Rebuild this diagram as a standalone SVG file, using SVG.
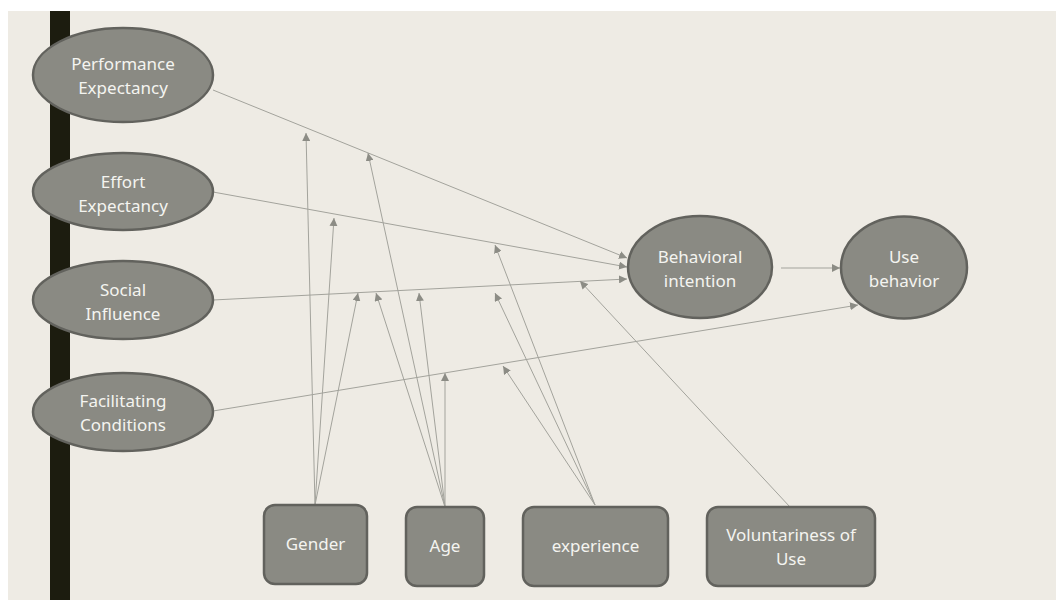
<svg xmlns="http://www.w3.org/2000/svg" width="1056" height="600" viewBox="0 0 1056 600">
<defs>
<style>
.node{fill:#8A8A83;stroke:#62625D;stroke-width:2.5}
.lbl{font-family:"Noto Sans","Open Sans","Liberation Sans",sans-serif;font-size:17px;fill:#F4F4F0;text-anchor:middle}
.conn{stroke:#A3A39C;stroke-width:1;fill:none;marker-end:url(#arr)}
</style>
<marker id="arr" markerUnits="userSpaceOnUse" markerWidth="9" markerHeight="8" refX="8" refY="4" orient="auto">
<path d="M0,0 L8,4 L0,8 Z" fill="#8C8C85"/>
</marker>
</defs>
<rect x="0" y="0" width="1056" height="600" fill="#FFFFFF"/>
<rect x="8" y="11" width="1048" height="589" fill="#EEEBE4"/>
<rect x="50" y="11" width="20" height="589" fill="#1C1C0F"/>
<g id="connectors">
<line class="conn" x1="213" y1="90" x2="627" y2="258"/>
<line class="conn" x1="213" y1="192" x2="627" y2="267"/>
<line class="conn" x1="213" y1="300" x2="627" y2="279"/>
<line class="conn" x1="213" y1="411" x2="858" y2="305"/>
<line class="conn" x1="781" y1="268" x2="840" y2="268"/>
<line class="conn" x1="315" y1="505" x2="306" y2="133"/>
<line class="conn" x1="315" y1="505" x2="334" y2="218"/>
<line class="conn" x1="315" y1="505" x2="358" y2="293"/>
<line class="conn" x1="445" y1="507" x2="368" y2="153"/>
<line class="conn" x1="445" y1="507" x2="376" y2="293"/>
<line class="conn" x1="445" y1="507" x2="419" y2="293"/>
<line class="conn" x1="445" y1="507" x2="445" y2="373"/>
<line class="conn" x1="595" y1="505" x2="495" y2="245"/>
<line class="conn" x1="595" y1="505" x2="495" y2="293"/>
<line class="conn" x1="595" y1="505" x2="503" y2="366"/>
<line class="conn" x1="790" y1="507" x2="580" y2="281"/>
</g>
<g id="performance-expectancy">
<ellipse class="node" cx="123" cy="75" rx="90" ry="47"/>
<text class="lbl" x="123" y="70">Performance</text>
<text class="lbl" x="123" y="94">Expectancy</text>
</g>
<g id="effort-expectancy">
<ellipse class="node" cx="123" cy="191.5" rx="90" ry="38.5"/>
<text class="lbl" x="123" y="188">Effort</text>
<text class="lbl" x="123" y="212">Expectancy</text>
</g>
<g id="social-influence">
<ellipse class="node" cx="123" cy="300" rx="90" ry="39"/>
<text class="lbl" x="123" y="296">Social</text>
<text class="lbl" x="123" y="320">Influence</text>
</g>
<g id="facilitating-conditions">
<ellipse class="node" cx="123" cy="412" rx="90" ry="39"/>
<text class="lbl" x="123" y="407">Facilitating</text>
<text class="lbl" x="123" y="431">Conditions</text>
</g>
<g id="behavioral-intention">
<ellipse class="node" cx="700" cy="267" rx="72" ry="51"/>
<text class="lbl" x="700" y="263">Behavioral</text>
<text class="lbl" x="700" y="287">intention</text>
</g>
<g id="use-behavior">
<ellipse class="node" cx="904" cy="267.5" rx="63" ry="51"/>
<text class="lbl" x="904" y="263">Use</text>
<text class="lbl" x="904" y="287">behavior</text>
</g>
<g id="gender">
<rect class="node" x="264" y="505" width="103" height="79" rx="11"/>
<text class="lbl" x="315.5" y="550">Gender</text>
</g>
<g id="age">
<rect class="node" x="406" y="507" width="78" height="79" rx="11"/>
<text class="lbl" x="445" y="552">Age</text>
</g>
<g id="experience">
<rect class="node" x="523" y="507" width="145" height="79" rx="11"/>
<text class="lbl" x="595.5" y="552">experience</text>
</g>
<g id="voluntariness">
<rect class="node" x="707" y="507" width="168" height="79" rx="11"/>
<text class="lbl" x="791" y="541">Voluntariness of</text>
<text class="lbl" x="791" y="565">Use</text>
</g>
</svg>
